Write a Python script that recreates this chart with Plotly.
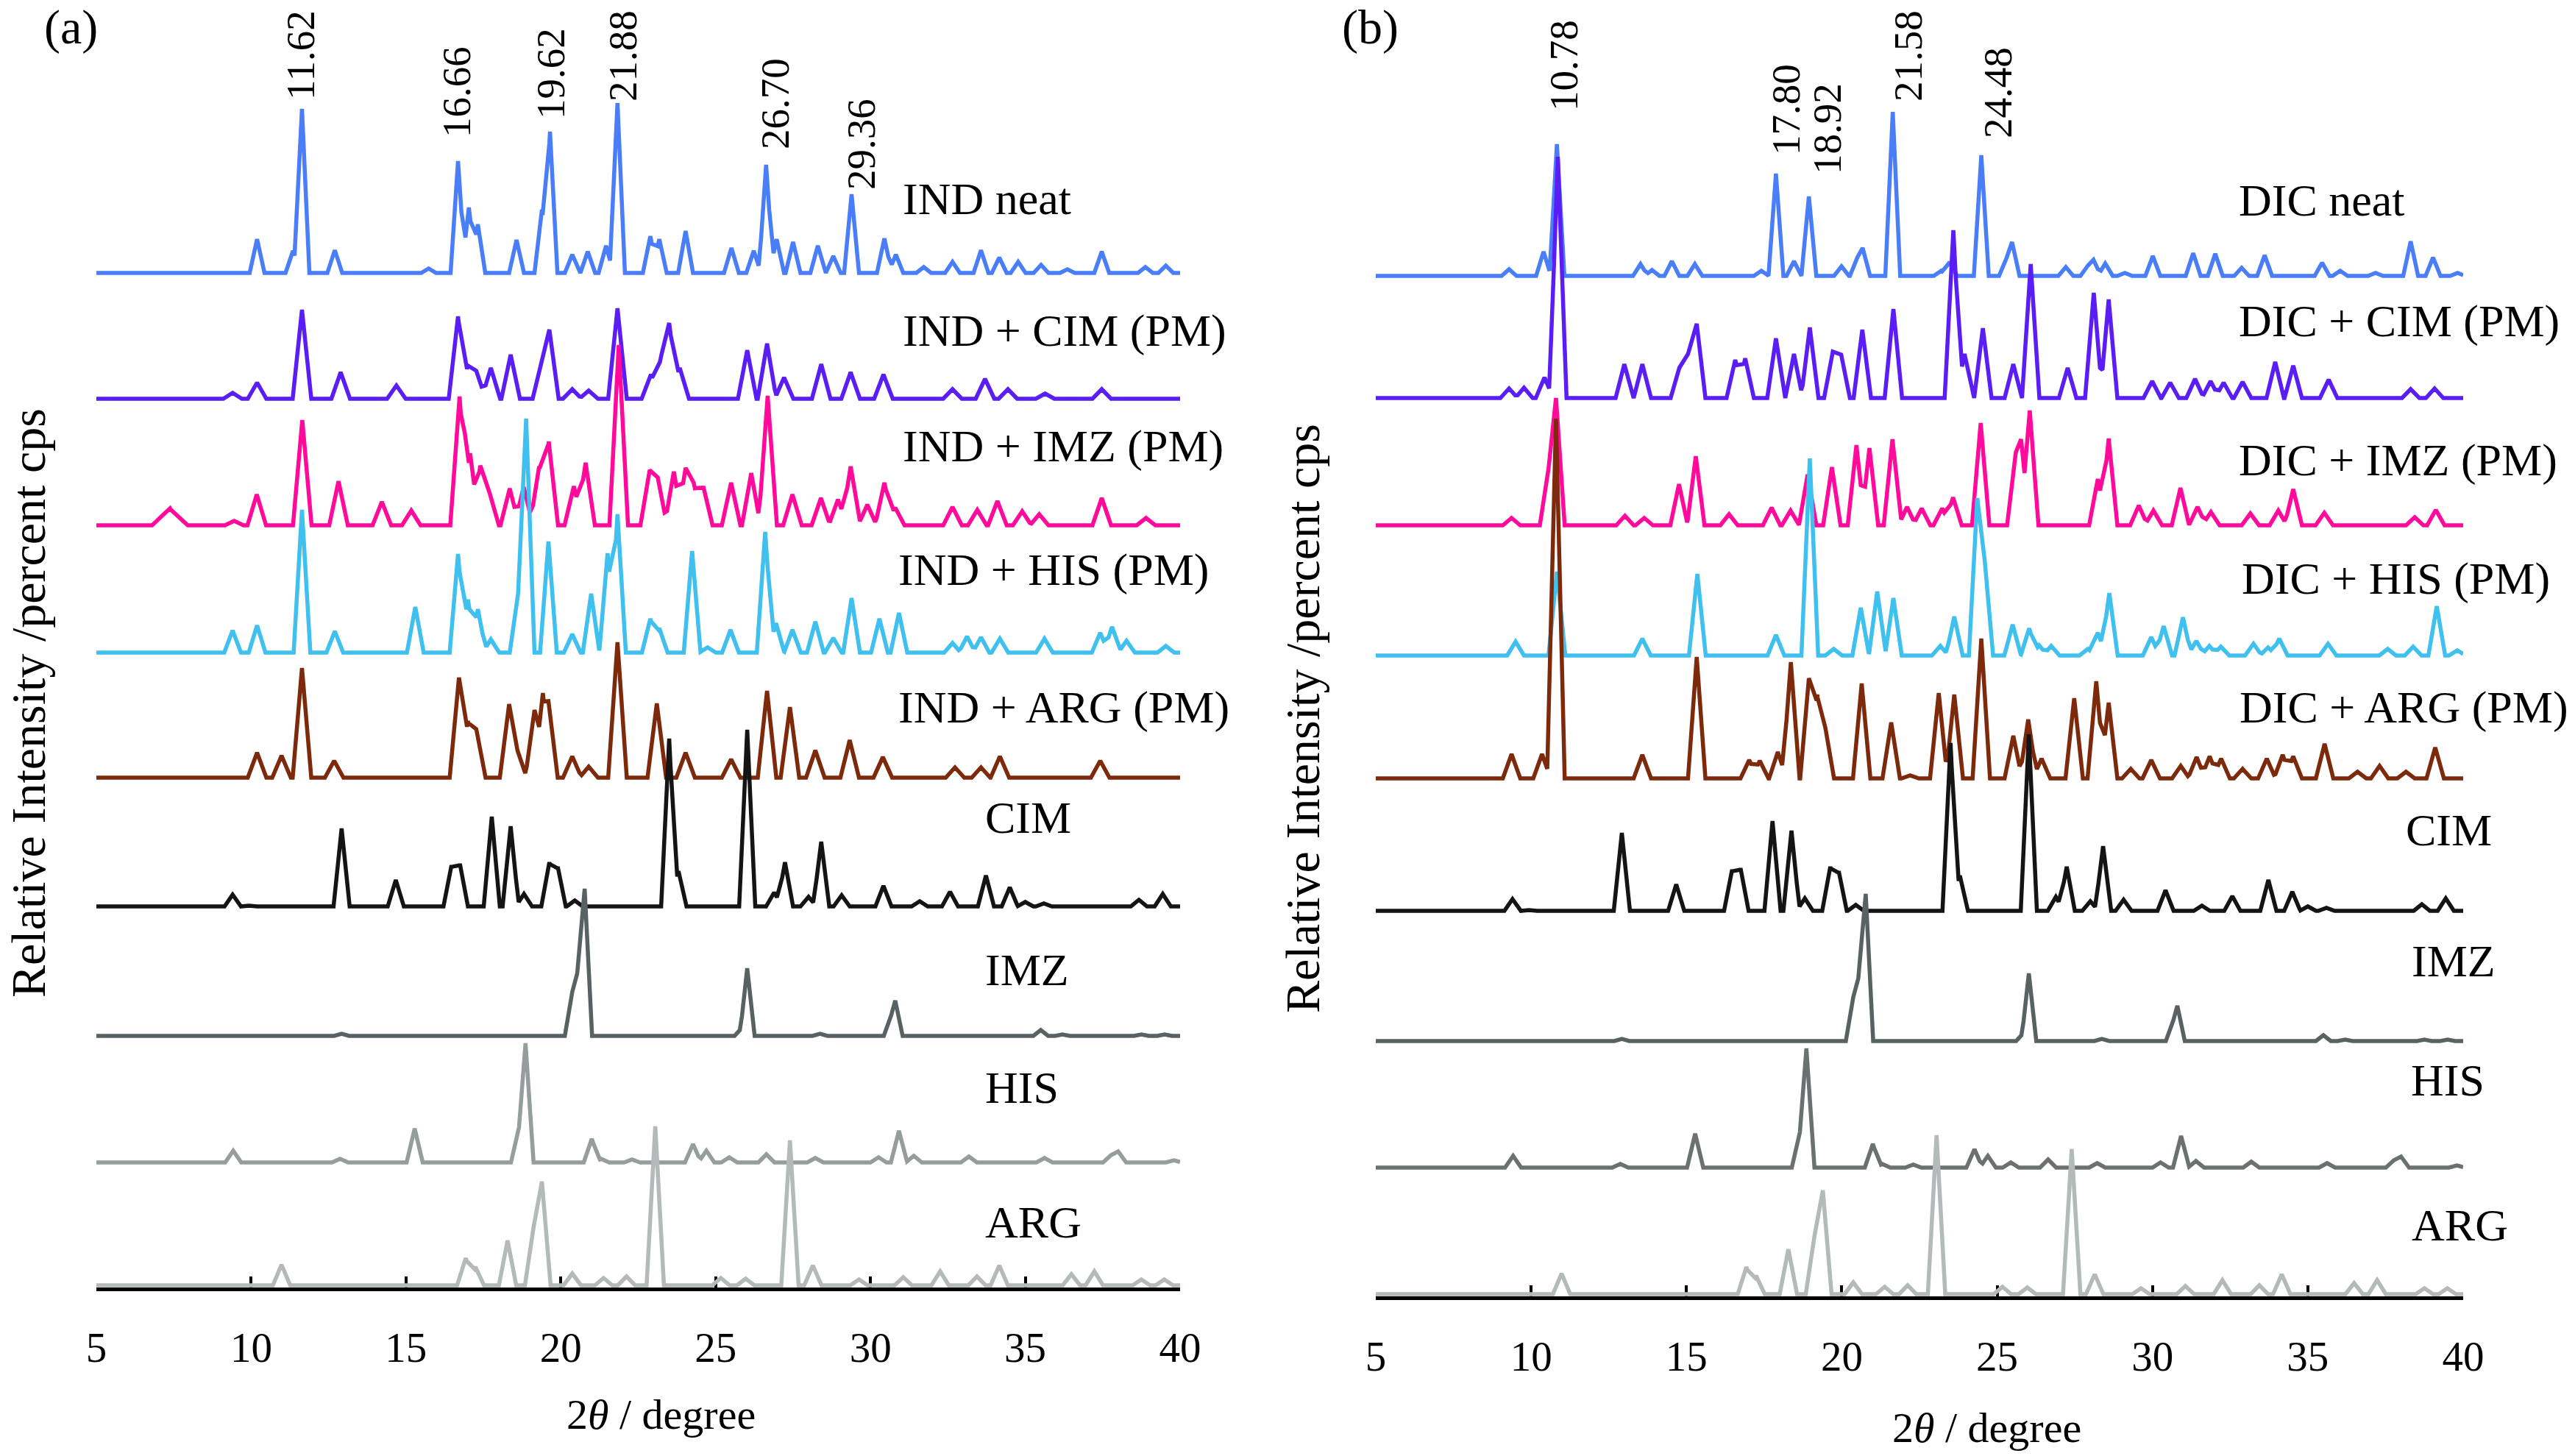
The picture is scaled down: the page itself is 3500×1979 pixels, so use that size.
import plotly.graph_objects as go

# ---------------- data (2theta positions / relative intensities) ----------------
tick_vals = [5, 10, 15, 20, 25, 30, 35, 40]

# Panel (a) - indomethacin
ind_neat_pos = [10.19, 11.35, 11.64, 12.70, 15.73, 16.68, 17.03, 17.32, 18.57, 19.39, 19.65, 20.37, 20.87, 21.46,
                21.83, 22.89, 23.18, 24.03, 25.51, 26.23, 26.63, 26.97, 27.50, 28.30, 28.80, 29.39, 30.45, 30.82,
                31.72, 32.65, 33.57, 34.16, 34.77, 35.51, 36.36, 37.47, 38.88, 39.54]
ind_neat_int = [46, 30, 223, 31, 6, 152, 89, 66, 45, 86, 192, 25, 29, 37,
                231, 50, 46, 57, 34, 30, 147, 46, 42, 37, 23, 107, 47, 25,
                8, 15, 31, 21, 15, 11, 5, 29, 8, 10]

ind_cim_pos = [9.40, 10.19, 11.64, 12.89, 14.69, 16.68, 17.00, 17.27, 17.74, 18.38, 19.39, 19.63, 20.37, 20.90,
               21.83, 22.91, 23.25, 23.50, 23.84, 26.02, 26.66, 27.21, 28.41, 29.36, 30.42, 32.65, 33.70, 34.44,
               35.64, 37.47]
ind_cim_int = [8, 22, 121, 36, 18, 112, 45, 38, 42, 60, 51, 94, 13, 11,
               123, 33, 60, 103, 42, 66, 75, 29, 47, 36, 33, 13, 27, 13,
               7, 13]

ind_imz_pos = [7.10, 7.38, 7.65, 9.45, 10.18, 11.65, 12.82, 14.22, 15.17, 16.73, 16.90, 17.07, 17.40, 17.70,
               18.35, 18.80, 19.30, 19.61, 20.42, 20.80, 21.87, 22.87, 23.13, 23.65, 24.03, 24.29, 24.60, 25.50,
               26.15, 26.68, 27.48, 28.40, 28.95, 29.36, 29.90, 30.45, 30.80, 32.65, 33.45, 34.10, 34.90, 35.45,
               37.47, 38.90]
ind_imz_int = [12, 23, 12, 6, 42, 143, 60, 32, 20, 175, 125, 98, 81, 44,
               50, 52, 80, 114, 53, 85, 245, 75, 65, 73, 78, 58, 53, 58,
               71, 176, 42, 37, 35, 80, 28, 58, 24, 25, 21, 33, 19, 15,
               37, 10]

ind_his_pos = [9.40, 10.19, 11.64, 12.70, 15.30, 16.68, 17.00, 17.32, 17.74, 18.62, 18.88, 19.60, 20.37, 20.98,
               21.51, 21.83, 22.89, 23.18, 24.24, 24.74, 25.48, 26.60, 26.95, 27.48, 28.22, 28.80, 29.39, 30.29,
               30.92, 32.65, 33.12, 33.57, 34.18, 35.62, 37.42, 37.80, 38.27, 39.54]
ind_his_int = [30, 37, 194, 29, 62, 134, 72, 59, 18, 80, 318, 151, 25, 80,
               135, 188, 46, 33, 138, 7, 31, 164, 40, 31, 42, 20, 74, 46,
               54, 13, 22, 21, 19, 19, 27, 35, 16, 9]

ind_arg_pos = [10.19, 10.98, 11.64, 12.68, 16.71, 17.00, 17.27, 18.33, 18.60, 19.15, 19.42, 19.60, 20.37, 20.90,
               21.83, 23.10, 24.03, 25.50, 26.66, 27.40, 28.22, 29.33, 30.40, 32.73, 33.57, 34.18, 37.42]
ind_arg_int = [34, 30, 149, 23, 136, 77, 66, 100, 37, 92, 115, 104, 29, 15,
               184, 101, 34, 25, 118, 96, 37, 51, 28, 14, 14, 29, 23]

# Pure coformers (same reference patterns in both panels)
cim_pos = [9.40, 9.93, 12.92, 14.67, 16.47, 16.74, 17.77, 18.38, 18.81, 19.63, 19.90, 20.45, 23.50, 23.80,
           26.02, 26.89, 27.24, 28.00, 28.41, 29.07, 30.42, 31.59, 32.57, 33.73, 34.50, 35.00, 35.60, 38.67, 39.44]
cim_int = [16, 1, 106, 36, 56, 58, 122, 109, 17, 60, 54, 8, 228, 48,
           240, 19, 60, 13, 88, 15, 28, 7, 20, 42, 26, 6, 4, 9, 17]

imz_pos = [12.92, 20.37, 20.60, 20.77, 25.85, 26.02, 28.37, 30.67, 30.80, 35.50, 36.20, 38.75, 39.50]
imz_int = [3, 60, 120, 200, 11, 92, 3, 28, 48, 8, 2, 2, 2]

his_pos = [9.42, 12.87, 15.28, 18.65, 18.86, 21.00, 21.30, 22.30, 24.27, 24.70, 25.44, 26.64, 28.22, 30.26,
           30.92, 31.40, 33.18, 35.62, 37.77, 38.00, 39.80]
his_int = [16, 5, 46, 48, 162, 32, 5, 4, 25, 16, 7, 11, 6, 7,
           43, 9, 8, 6, 10, 15, 3]

arg_pos = [10.98, 16.93, 17.24, 18.28, 19.12, 19.39, 20.37, 21.38, 22.12, 23.05, 25.17, 25.97, 27.40, 28.14,
           29.63, 31.06, 32.25, 33.44, 34.16, 36.49, 37.23, 38.75, 39.49]
arg_int = [28, 37, 25, 61, 79, 141, 16, 10, 12, 216, 10, 9, 197, 27,
           8, 11, 19, 12, 27, 15, 19, 8, 8]

# Panel (b) - diclofenac
dic_neat_pos = [9.29, 10.40, 10.83, 13.52, 13.89, 14.53, 15.27, 17.41, 17.88, 18.46, 18.94, 19.99, 20.50, 20.67,
                21.64, 23.20, 23.47, 24.49, 25.30, 25.48, 27.21, 27.92, 28.10, 28.48, 29.11, 30.01, 31.31, 32.02,
                32.87, 33.61, 35.46, 36.04, 37.18, 38.31, 39.03, 39.82]
dic_neat_int = [9, 33, 179, 16, 8, 20, 16, 7, 139, 20, 108, 13, 25, 38,
                223, 7, 19, 164, 24, 46, 12, 14, 22, 17, 4, 27, 31, 30,
                11, 28, 18, 7, 4, 47, 25, 4]

dic_cim_pos = [9.29, 9.77, 10.43, 10.86, 13.00, 13.58, 14.77, 15.05, 15.33, 16.57, 16.89, 17.88, 18.46, 18.97,
               19.71, 19.98, 20.66, 21.66, 23.59, 23.95, 24.54, 25.52, 26.08, 27.27, 28.11, 28.59, 29.99, 30.57,
               31.37, 31.87, 32.29, 32.90, 33.95, 34.53, 35.67, 38.31, 39.08]
dic_cim_int = [13, 14, 28, 328, 46, 46, 41, 60, 101, 52, 54, 81, 60, 96,
               63, 59, 93, 121, 228, 60, 95, 46, 182, 41, 143, 134, 23, 21,
               26, 23, 21, 22, 49, 44, 25, 12, 13]

dic_imz_pos = [9.37, 10.56, 10.80, 13.02, 13.64, 14.76, 15.30, 16.37, 17.74, 18.35, 18.90, 19.68, 20.47, 20.89,
               21.63, 22.10, 22.57, 23.23, 23.58, 24.47, 25.60, 25.77, 26.05, 28.24, 28.59, 29.56, 30.03, 30.90,
               31.45, 31.88, 33.15, 34.05, 34.53, 35.53, 38.44, 39.12]
dic_imz_int = [10, 77, 173, 13, 10, 56, 94, 15, 24, 20, 69, 79, 109, 105,
               117, 25, 23, 23, 38, 139, 99, 117, 156, 63, 118, 27, 20, 51,
               25, 18, 16, 20, 49, 17, 11, 21]

dic_his_pos = [9.50, 10.83, 13.58, 15.35, 17.88, 18.97, 19.74, 20.61, 21.14, 21.66, 23.17, 23.62, 24.36, 24.60,
               25.50, 26.03, 26.35, 26.74, 27.92, 28.24, 28.61, 29.96, 30.36, 30.98, 31.41, 31.83, 32.20, 33.25,
               33.72, 34.08, 35.65, 37.57, 38.39, 39.15, 39.81]
dic_his_int = [19, 114, 23, 111, 28, 268, 9, 65, 87, 78, 13, 53, 214, 129,
               42, 37, 14, 13, 9, 31, 85, 25, 40, 52, 20, 13, 12, 16,
               11, 23, 16, 9, 12, 67, 7]

dic_arg_pos = [9.37, 10.35, 10.80, 13.58, 15.33, 17.02, 17.36, 17.94, 18.36, 18.94, 19.21, 19.47, 20.64, 21.59,
               22.20, 23.12, 23.62, 24.49, 25.52, 26.00, 26.43, 27.48, 28.19, 28.59, 29.30, 29.96, 30.91, 31.42,
               31.84, 32.21, 32.90, 33.68, 34.19, 34.53, 35.54, 36.60, 37.31, 38.16, 39.10]
dic_arg_int = [33, 33, 489, 32, 165, 25, 24, 36, 158, 136, 114, 69, 129, 76,
               4, 116, 114, 190, 58, 80, 27, 109, 132, 103, 13, 25, 17, 29,
               30, 27, 13, 27, 32, 30, 47, 9, 17, 9, 42]

ind_peak_labels = [11.62, 16.66, 19.62, 21.88, 26.70, 29.36]
dic_peak_labels = [10.78, 17.80, 18.92, 21.58, 24.48]

# ---------------- styles / layout ----------------
W, H = 3500, 1979
SERIF = "Liberation Serif, Times New Roman, serif"

C_NEAT, C_CIMX, C_IMZX, C_HISX, C_ARGX = "#4a7df8", "#5a1ef5", "#ff0a9a", "#3fc0ef", "#7d2a0c"
C_CIM, C_IMZ, C_ARG = "#141414", "#596262", "#b4b9b9"

# (name, positions, intensities, color, vertical offset, half width)
panel_a = [
    ("IND neat", ind_neat_pos, ind_neat_int, C_NEAT, 1379, 0.24),
    ("IND + CIM (PM)", ind_cim_pos, ind_cim_int, C_CIMX, 1208, 0.30),
    ("IND + IMZ (PM)", ind_imz_pos, ind_imz_int, C_IMZX, 1036, 0.30),
    ("IND + HIS (PM)", ind_his_pos, ind_his_int, C_HISX, 863, 0.27),
    ("IND + ARG (PM)", ind_arg_pos, ind_arg_int, C_ARGX, 693, 0.30),
    ("CIM", cim_pos, cim_int, C_CIM, 518, 0.26),
    ("IMZ", imz_pos, imz_int, C_IMZ, 342, 0.24),
    ("HIS", his_pos, his_int, "#959d9d", 170, 0.26),
    ("ARG", arg_pos, arg_int, C_ARG, 3, 0.28),
]
panel_b = [
    ("DIC neat", dic_neat_pos, dic_neat_int, C_NEAT, 1387, 0.24),
    ("DIC + CIM (PM)", dic_cim_pos, dic_cim_int, C_CIMX, 1221, 0.28),
    ("DIC + IMZ (PM)", dic_imz_pos, dic_imz_int, C_IMZX, 1048, 0.28),
    ("DIC + HIS (PM)", dic_his_pos, dic_his_int, C_HISX, 871, 0.27),
    ("DIC + ARG (PM)", dic_arg_pos, dic_arg_int, C_ARGX, 704, 0.28),
    ("CIM", cim_pos, cim_int, C_CIM, 524, 0.26),
    ("IMZ", imz_pos, imz_int, C_IMZ, 347, 0.24),
    ("HIS", his_pos, his_int, "#6b7070", 175, 0.26),
    ("ARG", arg_pos, arg_int, C_ARG, 3, 0.28),
]


def profile(pos, inten, w, off):
    xs = {5.0, 40.0}
    for p in pos:
        xs.update([p - w, p, p + w])
    xs = sorted(x for x in xs if 5.0 <= x <= 40.0)
    ys = []
    for x in xs:
        v = 0.0
        for p, h in zip(pos, inten):
            t = 1.0 - abs(x - p) / w
            if t > 0:
                v = max(v, h * t)
        ys.append(off + v)
    return xs, ys


fig = go.Figure()
for panel, xa, ya in ((panel_a, "x", "y"), (panel_b, "x2", "y2")):
    for name, pos, inten, color, off, w in panel:
        xs, ys = profile(pos, inten, w, off)
        fig.add_trace(go.Scatter(x=xs, y=ys, mode="lines", name=name, xaxis=xa, yaxis=ya,
                                 line=dict(color=color, width=5.5), hoverinfo="skip"))

axis_common = dict(range=[5, 40], tickvals=tick_vals, ticks="inside", ticklen=15, tickwidth=4,
                   tickcolor="black", showline=True, linewidth=5, linecolor="black", showgrid=False,
                   zeroline=False, tickfont=dict(family=SERIF, size=57, color="black"),
                   ticklabelstandoff=28, layer="below traces", automargin=False, fixedrange=True)

fig.update_layout(
    width=W, height=H, paper_bgcolor="white", plot_bgcolor="white", showlegend=False,
    margin=dict(l=0, r=0, t=0, b=0),
    xaxis=dict(domain=[131 / W, 1604 / W], anchor="y", **axis_common),
    yaxis=dict(domain=[229 / H, 1.0], range=[0, 1750], visible=False, fixedrange=True),
    xaxis2=dict(domain=[1870 / W, 3348 / W], anchor="y2", **axis_common),
    yaxis2=dict(domain=[217 / H, 1.0], range=[0, 1762], visible=False, fixedrange=True),
)

ann = []


def paper_text(text, px, py, size, xanchor="left", angle=0):
    ann.append(dict(text=text, x=px / W, y=1 - py / H, xref="paper", yref="paper", showarrow=False,
                    xanchor=xanchor, yanchor="middle", textangle=angle,
                    font=dict(family=SERIF, size=size, color="black")))


paper_text("(a)", 96, 37, 66, "center")
paper_text("(b)", 1863, 37, 66, "center")
paper_text("Relative Intensity /percent cps", 38, 956, 66, "center", -90)
paper_text("Relative Intensity /percent cps", 1770, 976, 66, "center", -90)
paper_text("2<i>θ</i> / degree", 898, 1922, 58, "center")
paper_text("2<i>θ</i> / degree", 2700, 1940, 58, "center")

labels_a = [(1225, 270), (1225, 450), (1225, 606), (1219, 774), (1219, 961),
            (1337, 1111), (1337, 1318), (1337, 1478), (1337, 1661)]
labels_b = [(3041, 272), (3041, 436), (3041, 625), (3045, 786), (3042, 962),
            (3268, 1128), (3276, 1306), (3275, 1468), (3276, 1665)]
for panel, labs in ((panel_a, labels_a), (panel_b, labels_b)):
    for (name, *_), (px, py) in zip(panel, labs):
        paper_text(name, px, py, 62)

# rotated peak-position labels (text centres, page pixels)
peak_label_pos_a = [(408, 75), (620, 125), (749, 100), (847, 76), (1053, 141), (1170, 196)]
peak_label_pos_b = [(2126, 89), (2427, 149), (2483, 175), (2594, 76), (2715, 126)]
for labels, places in ((ind_peak_labels, peak_label_pos_a), (dic_peak_labels, peak_label_pos_b)):
    for lv, (px, py) in zip(labels, places):
        paper_text(f"{lv:.2f}", px, py, 55, "center", -90)

fig.update_layout(annotations=ann)
fig.write_html("out.html", config={"displayModeBar": False},
               post_script="document.body.style.margin='0';")
